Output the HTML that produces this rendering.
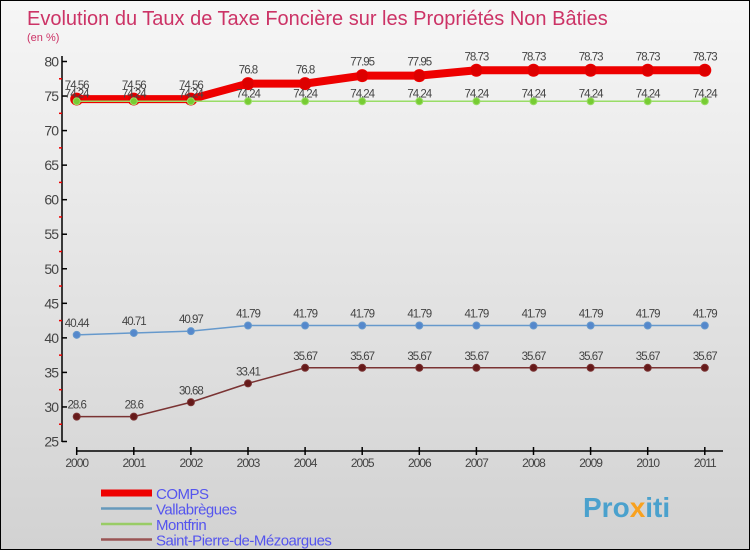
<!DOCTYPE html>
<html><head><meta charset="utf-8"><style>
body{margin:0}
#wrap{width:750px;height:550px;position:relative;overflow:hidden;box-sizing:border-box;border:1px solid #000;background:linear-gradient(#f6f6f6,#d2d2d2);font-family:"Liberation Sans",sans-serif}
</style></head><body>
<div id="wrap">
<svg id="svg" width="750" height="550" style="position:absolute;left:0;top:0">
<text x="26" y="24" font-size="20" fill="#cc3366">Evolution du Taux de Taxe Foncière sur les Propriétés Non Bâties</text>
<text x="26" y="40" font-size="11" fill="#cc3366">(en %)</text>
<text x="582" y="516" font-size="28" font-weight="bold" fill="#3399cc" opacity="0.85">Pro<tspan fill="#ff9900">x</tspan>iti</text>
</svg>
</div>
<script>
const years=["2000","2001","2002","2003","2004","2005","2006","2007","2008","2009","2010","2011"];
const yTicks=[25,30,35,40,45,50,55,60,65,70,75,80];
const comps=[74.56,74.56,74.56,76.8,76.8,77.95,77.95,78.73,78.73,78.73,78.73,78.73];
const vallabregues=[40.44,40.71,40.97,41.79,41.79,41.79,41.79,41.79,41.79,41.79,41.79,41.79];
const montfrin=[74.24,74.24,74.24,74.24,74.24,74.24,74.24,74.24,74.24,74.24,74.24,74.24];
const saintPierre=[28.6,28.6,30.68,33.41,35.67,35.67,35.67,35.67,35.67,35.67,35.67,35.67];
const names=["COMPS","Vallabrègues","Montfrin","Saint-Pierre-de-Mézoargues"];

const NS="http://www.w3.org/2000/svg";
const svg=document.getElementById('svg');
const X=i=>75.7+i*57.1;
const Y=v=>440.5-(v-25)*(380/55);
function el(t,a,p){const e=document.createElementNS(NS,t);for(const k in a)e.setAttribute(k,a[k]);(p||svg).appendChild(e);return e;}
function fmt(v){return String(v);}

let ya=el('line',{x1:61,y1:55,x2:61,y2:441,stroke:'#000','stroke-width':1.5});


yTicks.forEach((v,i)=>{
  let t=el('line',{x1:61,y1:Y(v),x2:66,y2:Y(v),stroke:'#000','stroke-width':1.5});
  
  
  let l=el('text',{x:57,y:Y(v)+5,'font-size':14,fill:'#444','text-anchor':'end','letter-spacing':'-1'});
  l.textContent=v;
  
  
  if(i<yTicks.length-1){
    let m=el('line',{x1:58,y1:Y(v+2.5),x2:61,y2:Y(v+2.5),stroke:'#e00','stroke-width':1.5});
    
    
  }
});
let xa=el('line',{x1:75,y1:450,x2:722,y2:450,stroke:'#000','stroke-width':1.5});


years.forEach((y,i)=>{
  let t=el('line',{x1:X(i),y1:446,x2:X(i),y2:454,stroke:'#000','stroke-width':1.5});
  
  
  let l=el('text',{x:X(i),y:466,'font-size':12,fill:'#444','text-anchor':'middle','letter-spacing':'-1'});
  l.textContent=y;
  
  
});

function series(data,color,w,r,ptColor,name,labelDy){
  const g=el('g',{});
  
  
  let pl=el('polyline',{points:data.map((v,i)=>X(i)+','+Y(v)).join(' '),fill:'none',stroke:color,'stroke-width':w,'stroke-linejoin':'round'},g);
  
  
  data.forEach((v,i)=>{
    let c=el('circle',{cx:X(i),cy:Y(v),r:r,fill:ptColor,stroke:color,'stroke-width':1},g);
    
    
  });
  data.forEach((v,i)=>{
    let t=el('text',{x:X(i),y:Y(v)+labelDy,'font-size':11.5,fill:'#444','text-anchor':'middle','letter-spacing':'-1'},g);
    t.textContent=fmt(v);
    
    
  });
}
series(saintPierre,'#7a3333',1.5,3.5,'#661a1a','saint-pierre',-8);
series(vallabregues,'#6699cc',1.5,3.5,'#5588cc','vallabregues',-8);
series(comps,'#ee0000',8,6,'#dd0000','comps',-10);
series(montfrin,'#99dd66',1.5,3.5,'#77cc33','montfrin',-4);

const lc=['#ee0000','#6699bb','#99cc66','#995555'];
const lw=[7,2.5,2.5,2.5];
names.forEach((n,i)=>{
  const y=492+i*15.5;
  let l=el('line',{x1:100,y1:y,x2:151,y2:y,stroke:lc[i],'stroke-width':lw[i]});
  
  
  let t=el('text',{x:155,y:y+6,'font-size':15,fill:'#5555ee','letter-spacing':'-0.5'});
  t.textContent=n;
  
  
});
</script>
</body></html>
